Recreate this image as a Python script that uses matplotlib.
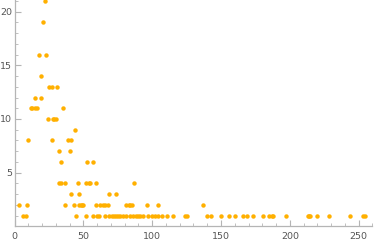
import matplotlib
matplotlib.use("Agg")
import matplotlib.pyplot as plt
from matplotlib.ticker import MultipleLocator

# (x, y) counts, grouped by y value
x_y21 = [22]
x_y19 = [21]
x_y16 = [18, 23]
x_y14 = [19]
x_y13 = [25, 27, 31]
x_y12 = [15, 19]
x_y11 = [12, 13, 15, 16.5, 35]
x_y10 = [24, 28, 29, 30]
x_y9 = [44]
x_y8 = [10, 27, 39, 41]
x_y7 = [32, 40]
x_y6 = [34, 53, 57]
x_y4 = [32, 34, 37, 46, 52, 54, 55, 59, 87]
x_y3 = [41, 47, 69, 74]
x_y2 = [3, 9, 37, 43, 47, 48, 49, 50, 59, 62, 64, 66, 68, 81, 83, 84, 85.5, 96, 104, 137]
x_y1 = [6, 8, 45, 52, 57, 60, 61.5, 66, 69, 70.5, 72, 73.5, 75, 77, 79, 81, 84, 86,
        88, 89.5, 91, 93.5, 97, 100, 102, 104, 107, 110.5, 115, 124, 125.5, 140, 143,
        150, 156, 160, 166, 169, 173, 180.5, 185, 187, 188, 197, 213, 214, 215,
        219.5, 228.5, 243.5, 253, 254.5]

groups = [(21, x_y21), (19, x_y19), (16, x_y16), (14, x_y14), (13, x_y13), (12, x_y12),
          (11, x_y11), (10, x_y10), (9, x_y9), (8, x_y8), (7, x_y7), (6, x_y6),
          (4, x_y4), (3, x_y3), (2, x_y2), (1, x_y1)]

xs, ys = [], []
for yv, xl in groups:
    for xv in xl:
        xs.append(xv)
        ys.append(yv)

x_ticks = [0, 50, 100, 150, 200, 250]
y_ticks = [5, 10, 15, 20]

W, H = 374, 245
fig = plt.figure(figsize=(W / 100, H / 100), dpi=100)
left_px, right_px, bottom_px, top_px = 14.5, 372.4, 226.4, 0.0
ax = fig.add_axes([left_px / W, (H - bottom_px) / H,
                   (right_px - left_px) / W, (bottom_px - top_px) / H])
ax.set_xlim(0, 260)
ax.set_ylim(0, 21.08)

ax.plot(xs, ys, 'o', color='#FFB000', markersize=3.2, markeredgewidth=0, clip_on=False)

for s in ['top', 'right']:
    ax.spines[s].set_visible(False)
for s in ['left', 'bottom']:
    ax.spines[s].set_color('#B5B5B5')
    ax.spines[s].set_linewidth(0.9)

ax.set_xticks(x_ticks)
ax.set_yticks(y_ticks)
ax.xaxis.set_minor_locator(MultipleLocator(10))
ax.yaxis.set_minor_locator(MultipleLocator(1))
ax.tick_params(which='both', direction='in', colors='#B5B5B5', labelcolor='#555555',
               labelsize=6.8)
ax.tick_params(which='major', length=4, width=0.8)
ax.tick_params(which='minor', length=2, width=0.6)
ax.tick_params(axis='x', pad=4)
ax.tick_params(axis='y', pad=1.5)

fig.savefig('out.png', dpi=100)
